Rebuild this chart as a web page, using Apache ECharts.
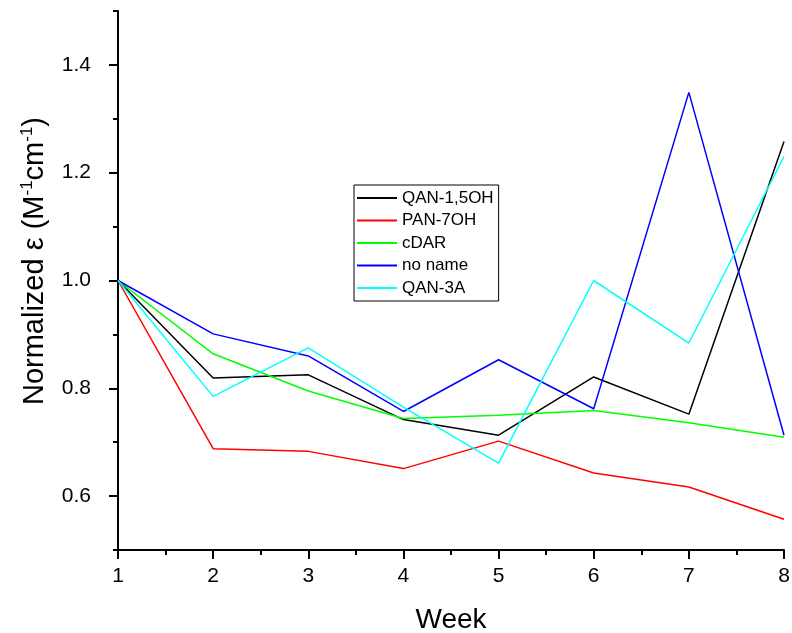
<!DOCTYPE html>
<html>
<head>
<meta charset="utf-8">
<script src="https://cdn.jsdelivr.net/npm/echarts@6/dist/echarts.min.js"></script>
<style>
  html, body { margin: 0; padding: 0; background: #fff; }
  #chart { width: 792px; height: 633px; }
</style>
</head>
<body>
<div id="chart"></div>
<script>
const weeks = [1, 2, 3, 4, 5, 6, 7, 8];
const seriesNames = ['QAN-1,5OH', 'PAN-7OH', 'cDAR', 'no name', 'QAN-3A'];
const qan15oh = [1.0, 0.819, 0.825, 0.742, 0.713, 0.821, 0.752, 1.258];
const pan7oh  = [1.0, 0.688, 0.683, 0.651, 0.702, 0.643, 0.617, 0.557];
const cdar    = [1.0, 0.864, 0.795, 0.744, 0.750, 0.759, 0.736, 0.709];
const noName  = [1.0, 0.901, 0.860, 0.757, 0.853, 0.762, 1.349, 0.713];
const qan3a   = [1.0, 0.785, 0.875, 0.765, 0.661, 1.000, 0.884, 1.230];
const yTickLabels = [0.6, 0.8, 1.0, 1.2, 1.4];
const xTickLabels = [1, 2, 3, 4, 5, 6, 7, 8];

const values = [qan15oh, pan7oh, cdar, noName, qan3a];
const colors = ['#000000', '#ff0000', '#00ff00', '#0000ff', '#00ffff'];
const font = 'Liberation Sans, Arial, sans-serif';

const chart = echarts.init(document.getElementById('chart'), null, { renderer: 'canvas' });

const axisLineStyle = { color: '#000', width: 2 };

const option = {
  backgroundColor: '#fff',
  animation: false,
  grid: { left: 118, right: 8, top: 11, bottom: 83, containLabel: false, outerBoundsMode: 'none' },
  legend: {
    orient: 'vertical',
    left: 354,
    top: 185,
    padding: [4, 5, 4, 3],
    borderColor: '#000',
    borderWidth: 1,
    icon: 'rect',
    itemWidth: 40,
    itemHeight: 2,
    itemGap: 4.5,
    textStyle: { fontFamily: font, fontSize: 17, color: '#000', lineHeight: 18 },
    data: seriesNames
  },
  xAxis: {
    type: 'value',
    min: 1, max: 8, interval: 1,
    name: 'Week',
    nameLocation: 'middle',
    nameGap: 56,
    nameTextStyle: { fontFamily: font, fontSize: 28, color: '#000' },
    axisLine: { show: true, lineStyle: axisLineStyle },
    axisTick: { show: true, length: 9, lineStyle: axisLineStyle },
    minorTick: { show: true, splitNumber: 2, length: 5, lineStyle: axisLineStyle },
    splitLine: { show: false },
    minorSplitLine: { show: false },
    axisLabel: {
      fontFamily: font, fontSize: 21, color: '#000', margin: 16,
      customValues: xTickLabels,
      formatter: v => String(v)
    }
  },
  yAxis: [
    {
      type: 'value',
      min: 0.5, max: 1.5, interval: 0.1,
      axisLine: { show: true, lineStyle: axisLineStyle },
      axisTick: { show: true, length: 5, lineStyle: axisLineStyle },
      splitLine: { show: false },
      axisLabel: { show: false }
    },
    {
      type: 'value',
      min: 0.5, max: 1.5, interval: 0.1,
      position: 'left',
      axisLine: { show: false },
      axisTick: { show: true, length: 9, lineStyle: axisLineStyle, customValues: yTickLabels },
      splitLine: { show: false },
      axisLabel: {
        show: true, fontFamily: font, fontSize: 21, color: '#000', margin: 27,
        customValues: yTickLabels,
        formatter: v => v.toFixed(1)
      }
    }
  ],
  graphic: [
    {
      type: 'text',
      x: 35, y: 261,
      rotation: Math.PI / 2,
      style: {
        text: '{n|Normalized ε (M}{s|-1}{n|cm}{s|-1}{n|)}',
        align: 'center',
        verticalAlign: 'middle',
        fill: '#000',
        rich: {
          n: { fontFamily: font, fontSize: 29, lineHeight: 33, fill: '#000' },
          s: { fontFamily: font, fontSize: 17, lineHeight: 33, verticalAlign: 'top', fill: '#000' }
        }
      }
    }
  ],
  series: seriesNames.map((name, i) => ({
    name: name,
    type: 'line',
    yAxisIndex: 0,
    symbol: 'none',
    color: colors[i],
    lineStyle: { color: colors[i], width: 1.5 },
    data: weeks.map((w, j) => [w, values[i][j]])
  }))
};

chart.setOption(option);
</script>
</body>
</html>
